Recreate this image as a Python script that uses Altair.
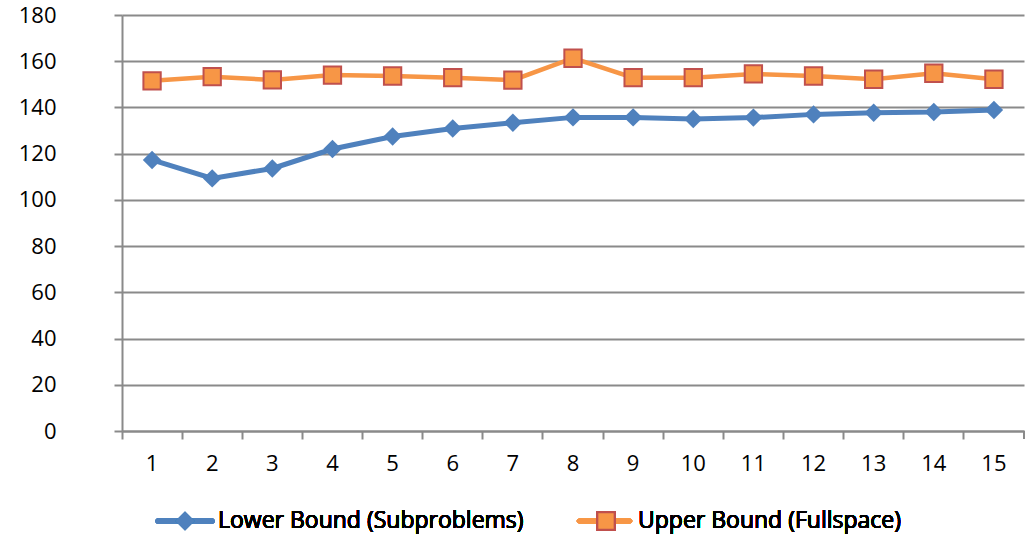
import altair as alt
import pandas as pd

iterations = list(range(1, 16))
lower_bound = [117.3, 109.3, 113.6, 122.0, 127.4, 130.9, 133.4, 135.7, 135.7, 135.0, 135.6, 137.0, 137.7, 138.0, 138.9]
upper_bound = [151.5, 153.3, 151.9, 154.0, 153.6, 152.9, 151.8, 161.3, 152.9, 152.9, 154.5, 153.6, 152.2, 154.8, 152.2]
lower_name = "Lower Bound (Subproblems)"
upper_name = "Upper Bound (Fullspace)"

df_low = pd.DataFrame({"iter": iterations, "value": lower_bound})
df_up = pd.DataFrame({"iter": iterations, "value": upper_bound})

FONT = "Open Sans"
GRID = "#8A8A8A"
BLUE = "#4F81BD"
ORANGE = "#F79646"
RED = "#C0504D"

W, H = 902, 416
AFS = 22

x_enc = alt.X(
    "iter:O",
    scale=alt.Scale(type="band", paddingInner=0, paddingOuter=0),
    axis=alt.Axis(
        title=None, labelAngle=0, bandPosition=0,
        tickSize=8, tickColor=GRID, tickWidth=2, domainColor=GRID, domainWidth=2,
        labelPadding=14, labelFontSize=AFS, labelFont=FONT, labelColor="#000000", grid=False,
    ),
)
y_enc = alt.Y(
    "value:Q",
    scale=alt.Scale(domain=[0, 180], nice=False),
    axis=alt.Axis(
        title=None, values=list(range(0, 181, 20)), tickSize=8, tickColor=GRID, tickWidth=2,
        domainColor=GRID, domainWidth=2, gridColor=GRID, gridWidth=2, grid=True,
        labelPadding=58, labelFontSize=AFS, labelFont=FONT, labelColor="#000000",
        labelBaseline="middle",
    ),
)

low_line = alt.Chart(df_low).mark_line(color=BLUE, strokeWidth=5).encode(x=x_enc, y=y_enc)
low_pts = alt.Chart(df_low).mark_point(shape="diamond", filled=True, color=BLUE, size=340, opacity=1).encode(x=x_enc, y=y_enc)
up_line = alt.Chart(df_up).mark_line(color=ORANGE, strokeWidth=4.5).encode(x=x_enc, y=y_enc)
up_pts = alt.Chart(df_up).mark_point(shape="square", filled=True, fill=ORANGE, stroke=RED, strokeWidth=2, size=300, opacity=1).encode(x=x_enc, y=y_enc)

last_tick = alt.Chart(df_low).mark_rule(color=GRID, strokeWidth=2).encode(
    x=alt.value(W), y=alt.value(H), y2=alt.value(H + 8)
)

LY = 506
LFS = 23
leg_low_line = alt.Chart(df_low).mark_rule(color=BLUE, strokeWidth=5, strokeCap="round").encode(
    x=alt.value(36), x2=alt.value(90), y=alt.value(LY)
)
leg_low_pt = alt.Chart(df_low).mark_point(shape="diamond", filled=True, color=BLUE, size=340, opacity=1).encode(
    x=alt.value(63), y=alt.value(LY)
)
leg_low_txt = alt.Chart(df_low).mark_text(align="left", baseline="middle", font=FONT, fontSize=LFS, color="#000000").encode(
    x=alt.value(96), y=alt.value(LY), text=alt.value(lower_name)
)
leg_up_line = alt.Chart(df_up).mark_rule(color=ORANGE, strokeWidth=4.5, strokeCap="round").encode(
    x=alt.value(457), x2=alt.value(508), y=alt.value(LY)
)
leg_up_pt = alt.Chart(df_up).mark_point(shape="square", filled=True, fill=ORANGE, stroke=RED, strokeWidth=2, size=300, opacity=1).encode(
    x=alt.value(484), y=alt.value(LY)
)
leg_up_txt = alt.Chart(df_up).mark_text(align="left", baseline="middle", font=FONT, fontSize=LFS, color="#000000").encode(
    x=alt.value(516), y=alt.value(LY), text=alt.value(upper_name)
)

chart = alt.layer(
    low_line, up_line, low_pts, up_pts, last_tick,
    leg_low_line, leg_low_pt, leg_low_txt, leg_up_line, leg_up_pt, leg_up_txt,
).properties(
    width=W, height=H,
    autosize=alt.AutoSizeParams(type="none"),
    padding={"left": 122, "top": 15, "right": 9, "bottom": 105},
    background="#ffffff",
).configure_view(stroke=None)

chart.save("out.html", embed_options={"renderer": "svg", "actions": False})
